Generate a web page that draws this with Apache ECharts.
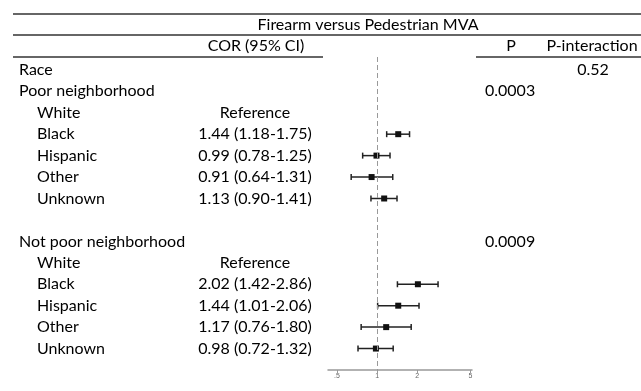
<!DOCTYPE html>
<html>
<head>
<meta charset="utf-8">
<script src="https://cdn.jsdelivr.net/npm/echarts@6/dist/echarts.min.js"></script>
<style>
  html, body { margin: 0; padding: 0; background: #fff; }
  #chart { width: 641px; height: 391px; }
</style>
</head>
<body>
<div id="chart"></div>
<script>
// rows of the table (blank row separates the two groups)
var rowLabels = ['Race', 'Poor neighborhood', 'White', 'Black', 'Hispanic', 'Other', 'Unknown', '',
    'Not poor neighborhood', 'White', 'Black', 'Hispanic', 'Other', 'Unknown'];
var rowIndent = [0, 0, 1, 1, 1, 1, 1, 0, 0, 1, 1, 1, 1, 1];
var corText = ['', '', 'Reference', '1.44 (1.18-1.75)', '0.99 (0.78-1.25)', '0.91 (0.64-1.31)', '1.13 (0.90-1.41)', '',
    '', 'Reference', '2.02 (1.42-2.86)', '1.44 (1.01-2.06)', '1.17 (0.76-1.80)', '0.98 (0.72-1.32)'];
var pText = ['', '0.0003', '', '', '', '', '', '', '0.0009', '', '', '', '', ''];
var pInterText = ['0.52', '', '', '', '', '', '', '', '', '', '', '', '', ''];

// forest plot values
var plotRows = [3, 4, 5, 6, 10, 11, 12, 13];
var cor = [1.44, 0.99, 0.91, 1.13, 2.02, 1.44, 1.17, 0.98];
var ciLow = [1.18, 0.78, 0.64, 0.90, 1.42, 1.01, 0.76, 0.72];
var ciHigh = [1.75, 1.25, 1.31, 1.41, 2.86, 2.06, 1.80, 1.32];

// axis ticks
var tickValues = [0.5, 1, 2, 5];
var tickLabels = ['.5', '1', '2', '5'];

var FONT = '16px Lato';
var TEXT = '#000';

var chart = echarts.init(document.getElementById('chart'));

var forestData = cor.map(function (v, i) {
    return [Math.log2(v), Math.log2(ciLow[i]), Math.log2(ciHigh[i]), plotRows[i]];
});

function textSeries(name, texts, xFn, align) {
    return {
        name: name,
        type: 'custom',
        xAxisIndex: 1,
        yAxisIndex: 1,
        silent: true,
        data: texts.map(function (t, i) { return [xFn(i), i, t]; }),
        renderItem: function (params, api) {
            var p = api.coord([api.value(0), api.value(1)]);
            return {
                type: 'text',
                x: p[0],
                y: p[1],
                style: {
                    text: texts[params.dataIndex],
                    font: FONT,
                    fill: TEXT,
                    align: align,
                    verticalAlign: 'middle'
                }
            };
        }
    };
}

function hLine(x1, x2, y) {
    return {
        type: 'line',
        shape: { x1: x1, y1: y, x2: x2, y2: y },
        style: { stroke: '#333', lineWidth: 1.5 }
    };
}

function header(text, x, y) {
    return {
        type: 'text',
        x: x,
        y: y,
        style: { text: text, font: FONT, fill: TEXT, align: 'center', verticalAlign: 'middle' }
    };
}

var yAxisBase = {
    type: 'value',
    inverse: true,
    min: -0.6,
    max: 14,
    show: false
};

var option = {
    animation: false,
    backgroundColor: '#fff',
    grid: [
        { left: 328, width: 144, top: 57, bottom: 21 },
        { left: 0, right: 0, top: 57, bottom: 21 }
    ],
    xAxis: [
        {
            type: 'value',
            gridIndex: 0,
            position: 'bottom',
            min: -1.22,
            max: 2.36,
            splitLine: { show: false },
            axisLine: { onZero: false, lineStyle: { color: '#999', width: 1.5 } },
            axisTick: {
                length: 3,
                lineStyle: { color: '#999' },
                customValues: tickValues.map(function (v) { return Math.log2(v); })
            },
            axisLabel: {
                fontSize: 7,
                color: '#666',
                margin: 3,
                customValues: tickValues.map(function (v) { return Math.log2(v); }),
                formatter: function (v) {
                    var k = tickValues.findIndex(function (t) { return Math.abs(Math.log2(t) - v) < 1e-6; });
                    return k >= 0 ? tickLabels[k] : '';
                }
            }
        },
        { type: 'value', gridIndex: 1, min: 0, max: 641, show: false }
    ],
    yAxis: [
        Object.assign({ gridIndex: 0 }, yAxisBase),
        Object.assign({ gridIndex: 1 }, yAxisBase)
    ],
    graphic: [
        hLine(13, 641, 14),
        hLine(13, 641, 35),
        hLine(13, 323, 57),
        hLine(476, 641, 57),
        header('Firearm versus Pedestrian MVA', 368, 25),
        header('COR (95% CI)', 256, 46),
        header('P', 511, 46),
        header('P-interaction', 592, 46)
    ],
    series: [
        {
            name: 'COR',
            type: 'custom',
            xAxisIndex: 0,
            yAxisIndex: 0,
            data: forestData,
            renderItem: function (params, api) {
                var est = api.coord([api.value(0), api.value(3)]);
                var lo = api.coord([api.value(1), api.value(3)]);
                var hi = api.coord([api.value(2), api.value(3)]);
                var cap = 3, sq = 6;
                var st = { stroke: '#222', lineWidth: 1.5 };
                return {
                    type: 'group',
                    children: [
                        { type: 'line', shape: { x1: lo[0], y1: lo[1], x2: hi[0], y2: hi[1] }, style: st },
                        { type: 'line', shape: { x1: lo[0], y1: lo[1] - cap, x2: lo[0], y2: lo[1] + cap }, style: st },
                        { type: 'line', shape: { x1: hi[0], y1: hi[1] - cap, x2: hi[0], y2: hi[1] + cap }, style: st },
                        { type: 'rect', shape: { x: est[0] - sq / 2, y: est[1] - sq / 2, width: sq, height: sq }, style: { fill: '#111' } }
                    ]
                };
            },
            markLine: {
                silent: true,
                symbol: 'none',
                label: { show: false },
                lineStyle: { color: '#999', type: [5, 3], width: 1 },
                data: [{ xAxis: 0 }]
            }
        },
        textSeries('labels', rowLabels, function (i) { return rowIndent[i] ? 37 : 19; }, 'left'),
        textSeries('cor', corText, function () { return 255; }, 'center'),
        textSeries('p', pText, function () { return 485; }, 'left'),
        textSeries('pint', pInterText, function () { return 593; }, 'center')
    ]
};

chart.setOption(option);
</script>
</body>
</html>
